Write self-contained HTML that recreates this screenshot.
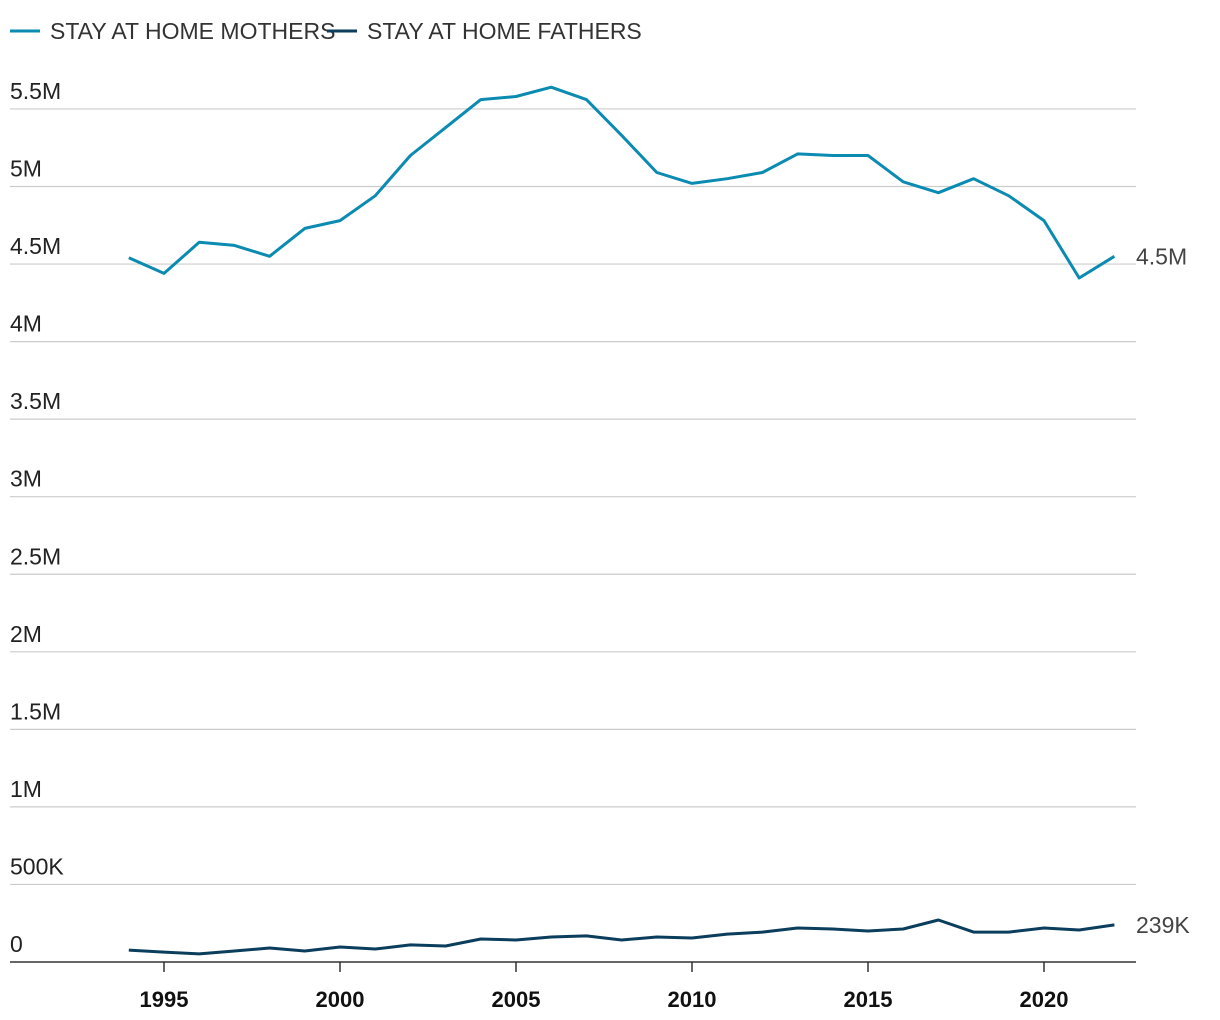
<!DOCTYPE html>
<html><head><meta charset="utf-8"><style>
html,body{margin:0;padding:0;background:#fff;}
svg{display:block;font-family:"Liberation Sans Narrow","Liberation Sans",sans-serif;}
</style></head><body>
<svg id="chart" width="1220" height="1020">
<g>
<line x1="10" y1="31" x2="40" y2="31" stroke="#0b8bb1" stroke-width="3"/>
<text x="50" y="39" font-size="23" fill="#333">STAY AT HOME MOTHERS</text>
<line x1="327" y1="31" x2="357" y2="31" stroke="#0b3d5c" stroke-width="3"/>
<text x="367" y="39" font-size="23" fill="#333">STAY AT HOME FATHERS</text>
</g>
<g id="grid"></g><g id="xaxis"></g><g id="lines"></g>
</svg>
<script>
const years=[1994,1995,1996,1997,1998,1999,2000,2001,2002,2003,2004,2005,2006,2007,2008,2009,2010,2011,2012,2013,2014,2015,2016,2017,2018,2019,2020,2021,2022];
const mothers=[4.54,4.44,4.64,4.62,4.55,4.73,4.78,4.94,5.20,5.38,5.56,5.58,5.64,5.56,5.33,5.09,5.02,5.05,5.09,5.21,5.20,5.20,5.03,4.96,5.05,4.94,4.78,4.41,4.55];
const fathers=[77,64,52,71,90,71,97,84,110,103,148,142,161,168,142,161,155,180,193,219,213,200,213,271,193,193,219,206,239];
const yTicks=[0,0.5,1,1.5,2,2.5,3,3.5,4,4.5,5,5.5];
const yTickLabels=["0","500K","1M","1.5M","2M","2.5M","3M","3.5M","4M","4.5M","5M","5.5M"];
const xTicks=[1995,2000,2005,2010,2015,2020];
const NS="http://www.w3.org/2000/svg";
const x=v=>164+(v-1995)*35.2;
const y=v=>962-v*155.1;
function mk(tag,attrs,parent,txt){const e=document.createElementNS(NS,tag);for(const k in attrs)e.setAttribute(k,attrs[k]);if(txt!==undefined)e.textContent=txt;parent.appendChild(e);return e;}
const grid=document.getElementById('grid');
yTicks.forEach((t,i)=>{
 const l=mk('line',{x1:10,x2:1136,y1:y(t),y2:y(t),stroke:i===0?'#333':'#ccc','stroke-width':i===0?1.5:1.2},grid);
 
 
 const tx=mk('text',{x:10,y:y(t)-10,'font-size':23,fill:'#222'},grid,yTickLabels[i]);
 
 
});
const xa=document.getElementById('xaxis');
xTicks.forEach(t=>{
 const l=mk('line',{x1:x(t),x2:x(t),y1:962,y2:972,stroke:'#333','stroke-width':1.5},xa);
 
 
 const tx=mk('text',{x:x(t),y:1007,'font-size':22,'font-weight':'bold','text-anchor':'middle',fill:'#111'},xa,String(t));
 
 
});
const lg=document.getElementById('lines');
function series(vals,conv,color,name,label){
 const d=vals.map((v,i)=>(i?'L':'M')+x(years[i]).toFixed(1)+','+y(conv(v)).toFixed(1)).join('');
 const p=mk('path',{d:d,fill:'none',stroke:color,'stroke-width':3,'stroke-linejoin':'round'},lg);
 
 
 const last=vals[vals.length-1];
 const t=mk('text',{x:1136,y:y(conv(last))+8,'font-size':23,fill:'#444'},lg,label);
 
 
}
series(mothers,v=>v,'#0b8bb1','mothers-line',mothers[mothers.length-1].toFixed(1)+'M');
series(fathers,v=>v/1000,'#0b3d5c','fathers-line',fathers[fathers.length-1]+'K');
</script>
</body></html>
